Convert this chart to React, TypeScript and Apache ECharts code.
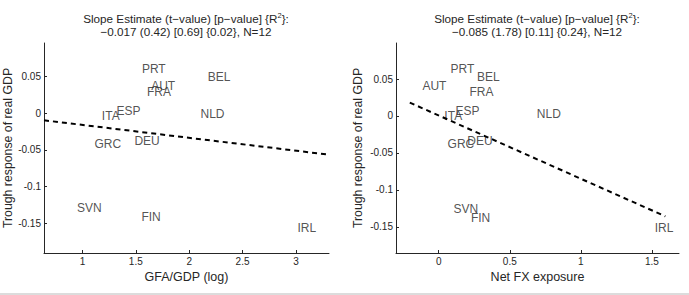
import React, { useEffect, useRef } from 'react';
import * as echarts from 'echarts';

const countries = ['PRT', 'BEL', 'AUT', 'FRA', 'ESP', 'ITA', 'NLD', 'GRC', 'DEU', 'SVN', 'FIN', 'IRL'];
const gfaGdpLog = [1.557, 2.175, 1.644, 1.604, 1.319, 1.182, 2.106, 1.112, 1.487, 0.95, 1.553, 3.015];
const troughLeft = [0.0594, 0.0485, 0.0367, 0.0281, 0.0027, -0.0045, -0.0014, -0.0425, -0.038, -0.1295, -0.1417, -0.1558];
const netFx = [0.084, 0.27, -0.114, 0.216, 0.119, 0.04, 0.69, 0.063, 0.201, 0.105, 0.227, 1.519];
const troughRight = [0.0635, 0.0526, 0.0408, 0.0322, 0.0068, -0.0004, 0.0027, -0.0385, -0.034, -0.1254, -0.1376, -0.1517];

const fitLeftX = [0.64, 3.31];
const fitLeftY = [-0.0099, -0.0566];
const fitRightX = [-0.203, 1.594];
const fitRightY = [0.0181, -0.1359];

const xTicksLeft = [1, 1.5, 2, 2.5, 3];
const xTicksRight = [0, 0.5, 1, 1.5];
const yTicks = [-0.15, -0.1, -0.05, 0, 0.05];

const titleLeft1 = 'Slope Estimate (t\u2212value) [p\u2212value] {R{sup|2}}:';
const titleLeft2 = '\u22120.017 (0.42) [0.69] {0.02}, N=12';
const titleRight1 = 'Slope Estimate (t\u2212value) [p\u2212value] {R{sup|2}}:';
const titleRight2 = '\u22120.085 (1.78) [0.11] {0.24}, N=12';

const FONT = 'Liberation Sans, Arial, Helvetica, sans-serif';
const INK = '#262626';

function xAxisCfg(gridIndex: number, min: number, max: number, ticks: number[], name: string) {
  return {
    type: 'value',
    gridIndex,
    min,
    max,
    name,
    nameLocation: 'middle',
    nameGap: 13,
    nameTextStyle: { color: INK, fontSize: 12.5, fontFamily: FONT, verticalAlign: 'top' },
    axisLine: { show: true, onZero: false, lineStyle: { color: INK, width: 1 } },
    axisTick: { show: true, inside: true, length: 3, customValues: ticks, lineStyle: { color: INK } },
    axisLabel: { color: INK, fontSize: 10, fontFamily: FONT, margin: 3, customValues: ticks, formatter: (v: number) => String(v) },
    splitLine: { show: false },
  };
}

function yAxisCfg(gridIndex: number, min: number, max: number, nameGap: number) {
  return {
    type: 'value',
    gridIndex,
    min,
    max,
    name: 'Trough response of real GDP',
    nameLocation: 'middle',
    nameGap,
    nameRotate: 90,
    nameTextStyle: { color: INK, fontSize: 12.3, fontFamily: FONT },
    axisLine: { show: true, onZero: false, lineStyle: { color: INK, width: 1 } },
    axisTick: { show: true, inside: true, length: 3, customValues: yTicks, lineStyle: { color: INK } },
    axisLabel: { color: INK, fontSize: 10, fontFamily: FONT, margin: 3, customValues: yTicks, formatter: (v: number) => String(v) },
    splitLine: { show: false },
  };
}

function labelSeries(idx: number, xs: number[], ys: number[]) {
  return {
    type: 'scatter',
    xAxisIndex: idx,
    yAxisIndex: idx,
    symbolSize: 0,
    silent: true,
    data: countries.map((c, i) => ({ name: c, value: [xs[i], ys[i]] })),
    label: {
      show: true,
      position: 'right',
      distance: 0,
      formatter: '{b}',
      color: INK,
      fontSize: 12,
      fontFamily: FONT,
      align: 'left',
      verticalAlign: 'middle',
    },
  };
}

function fitSeries(idx: number, xs: number[], ys: number[]) {
  return {
    type: 'line',
    xAxisIndex: idx,
    yAxisIndex: idx,
    symbol: 'none',
    silent: true,
    data: xs.map((x, i) => [x, ys[i]]),
    lineStyle: { color: '#000', width: 2, type: [5, 4] },
  };
}

function titleText(x: number, y: number, text: string) {
  return {
    type: 'text',
    x,
    y,
    style: {
      text,
      align: 'center',
      verticalAlign: 'middle',
      fill: INK,
      fontSize: 11.7,
      fontFamily: FONT,
      lineHeight: 14,
      rich: {
        sup: { fontSize: 7.5, lineHeight: 7, verticalAlign: 'top', fill: INK, fontFamily: FONT },
      },
    },
  };
}

export default function App() {
  const ref = useRef<HTMLDivElement>(null);
  useEffect(() => {
    const chart = echarts.init(ref.current!, null, { renderer: 'svg' });
    chart.setOption({
      animation: false,
      backgroundColor: '#fff',
      grid: [
        { left: 44, top: 43, width: 285, height: 210 },
        { left: 396, top: 43, width: 283, height: 210 },
      ],
      xAxis: [
        xAxisCfg(0, 0.64, 3.31, xTicksLeft, 'GFA/GDP (log)'),
        xAxisCfg(1, -0.3, 1.69, xTicksRight, 'Net FX exposure'),
      ],
      yAxis: [yAxisCfg(0, -0.19, 0.095, 30), yAxisCfg(1, -0.1855, 0.0988, 32)],
      series: [
        fitSeries(0, fitLeftX, fitLeftY),
        labelSeries(0, gfaGdpLog, troughLeft),
        fitSeries(1, fitRightX, fitRightY),
        labelSeries(1, netFx, troughRight),
      ],
      graphic: [
        titleText(186, 18, titleLeft1),
        titleText(186, 31, titleLeft2),
        titleText(537, 18, titleRight1),
        titleText(537, 31, titleRight2),
        { type: 'rect', shape: { x: 0, y: 293, width: 689, height: 2 }, style: { fill: '#dcdcdc' }, silent: true },
      ],
    });
    return () => chart.dispose();
  }, []);
  return (
    <div
      ref={ref}
      style={{ position: 'absolute', left: 0, top: 0, width: 689, height: 295, background: '#fff' }}
    />
  );
}
